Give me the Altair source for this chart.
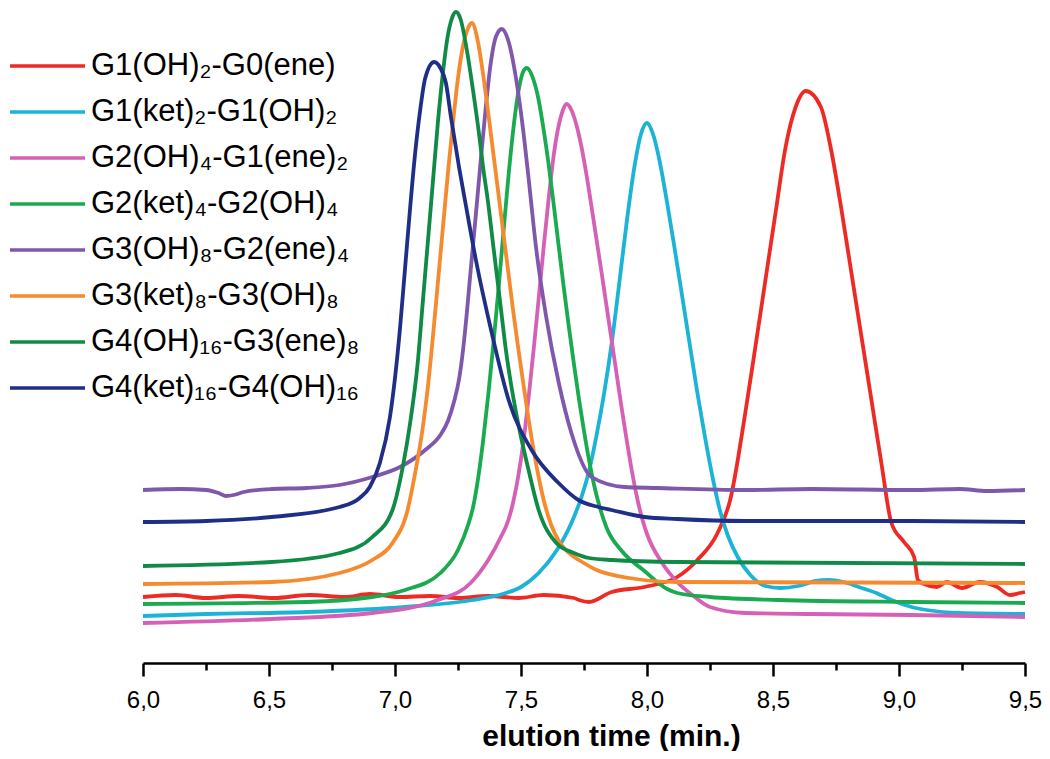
import altair as alt
import pandas as pd

# ---- data (x: elution time in min, y: detector signal, a.u.) ----
names = [
    "G1(OH)₂-G0(ene)",
    "G1(ket)₂-G1(OH)₂",
    "G2(OH)₄-G1(ene)₂",
    "G2(ket)₄-G2(OH)₄",
    "G3(OH)₈-G2(ene)₄",
    "G3(ket)₈-G3(OH)₈",
    "G4(OH)₁₆-G3(ene)₈",
    "G4(ket)₁₆-G4(OH)₁₆",
]
colors = ["#ee2a24", "#1cb4d6", "#d660b6", "#1aaa4f", "#7f57ab", "#f68a2e", "#108b45", "#1f2e87"]

red_x = [6.00, 6.13, 6.25, 6.38, 6.52, 6.66, 6.80, 6.90, 7.02, 7.14, 7.25, 7.37, 7.49, 7.59, 7.71, 7.73,
         7.77, 7.86, 7.99, 8.12, 8.20, 8.28, 8.33, 8.39, 8.43, 8.47, 8.51, 8.55, 8.59, 8.63, 8.69, 8.73,
         8.77, 8.81, 8.85, 8.89, 8.93, 8.97, 9.02, 9.06, 9.075, 9.10, 9.15, 9.19, 9.25, 9.32, 9.39, 9.44,
         9.48, 9.50]
red_y = [6.6, 6.8, 6.5, 6.7, 6.5, 6.8, 6.6, 6.9, 6.6, 6.7, 6.5, 6.7, 6.5, 6.8, 6.5, 6.3,
         6.1, 7.1, 7.6, 8.6, 10.3, 13.0, 16.3, 25.0, 31.6, 38.3, 45.0, 51.6, 55.6, 57.2, 55.6, 51.4,
         45.6, 39.2, 32.8, 26.4, 20.0, 14.0, 12.1, 10.6, 8.3, 7.9, 7.6, 8.1, 7.5, 8.1, 7.6, 6.8,
         7.0, 7.1]

cyan_x = [6.00, 6.25, 6.65, 7.04, 7.31, 7.44, 7.50, 7.57, 7.64, 7.70, 7.74, 7.77, 7.80, 7.83, 7.86, 7.89,
          7.92, 7.95, 7.975, 8.00, 8.025, 8.05, 8.08, 8.11, 8.14, 8.17, 8.20, 8.23, 8.26, 8.29, 8.32, 8.36,
          8.41, 8.47, 8.53, 8.60, 8.67, 8.72, 8.78, 8.84, 8.91, 8.97, 9.05, 9.11, 9.24, 9.50]
cyan_y = [4.7, 4.9, 5.1, 5.6, 6.3, 7.0, 7.6, 9.0, 11.2, 14.0, 16.6, 19.2, 22.8, 27.0, 32.0, 38.0,
          44.2, 49.6, 52.8, 54.0, 52.8, 50.2, 46.0, 41.4, 36.6, 31.8, 27.0, 22.6, 18.6, 15.2, 12.8, 10.6,
          8.8, 7.7, 7.5, 7.7, 8.2, 8.3, 8.1, 7.6, 7.0, 6.3, 5.6, 5.3, 5.0, 4.9]

pink_x = [6.00, 6.51, 6.91, 7.17, 7.30, 7.37, 7.42, 7.45, 7.47, 7.49, 7.51, 7.53, 7.55, 7.57, 7.59, 7.61,
          7.63, 7.65, 7.665, 7.681, 7.70, 7.72, 7.74, 7.76, 7.78, 7.80, 7.82, 7.84, 7.86, 7.88, 7.90, 7.92,
          7.94, 7.96, 7.98, 8.00, 8.06, 8.12, 8.19, 8.25, 8.39, 8.65, 9.05, 9.50]
pink_y = [4.0, 4.4, 5.0, 6.3, 8.0, 10.3, 12.6, 14.3, 16.2, 18.8, 22.2, 26.5, 31.3, 36.4, 41.6, 46.5,
          50.8, 53.8, 55.2, 55.9, 55.3, 53.8, 51.6, 48.8, 45.6, 42.3, 39.0, 35.6, 32.2, 28.8, 25.4, 22.2,
          19.2, 16.6, 14.5, 12.9, 10.0, 8.1, 6.6, 5.6, 5.0, 4.9, 4.8, 4.6]

green_x = [6.00, 6.65, 6.91, 7.04, 7.18, 7.25, 7.29, 7.31, 7.33, 7.35, 7.37, 7.39, 7.41, 7.43, 7.45, 7.47,
           7.49, 7.51, 7.523, 7.55, 7.57, 7.59, 7.61, 7.63, 7.65, 7.67, 7.69, 7.71, 7.73, 7.75, 7.77, 7.79,
           7.81, 7.84, 7.90, 7.99, 8.08, 8.12, 8.25, 8.52, 9.05, 9.50]
green_y = [5.9, 6.1, 6.6, 7.3, 9.0, 11.3, 13.8, 15.6, 18.5, 22.3, 26.8, 31.8, 37.2, 43.0, 48.6, 53.5,
           57.2, 59.2, 59.5, 58.3, 56.3, 53.3, 49.8, 45.8, 41.6, 37.5, 33.6, 29.9, 26.4, 23.2, 20.3, 17.8,
           15.8, 13.5, 11.2, 9.2, 7.4, 7.0, 6.6, 6.3, 6.1, 6.0]

purple_x = [6.00, 6.15, 6.25, 6.30, 6.33, 6.36, 6.40, 6.51, 6.65, 6.78, 6.91, 7.02, 7.12, 7.18, 7.21, 7.235,
            7.255, 7.27, 7.285, 7.30, 7.32, 7.34, 7.36, 7.38, 7.40, 7.424, 7.45, 7.48, 7.51, 7.53, 7.56, 7.60,
            7.65, 7.70, 7.78, 7.91, 8.04, 8.39, 8.65, 9.05, 9.24, 9.35, 9.50]
purple_y = [17.3, 17.4, 17.3, 17.0, 16.7, 16.8, 17.1, 17.4, 17.5, 17.8, 18.6, 19.6, 21.3, 22.8, 24.2, 26.2,
            28.5, 31.3, 35.0, 39.2, 44.6, 50.2, 55.5, 60.0, 62.6, 63.4, 62.2, 58.5, 53.0, 48.5, 41.5, 34.6,
            28.0, 23.0, 18.6, 17.6, 17.5, 17.3, 17.4, 17.3, 17.4, 17.2, 17.3]

orange_x = [6.00, 6.51, 6.78, 6.91, 6.99, 7.05, 7.08, 7.11, 7.13, 7.15, 7.17, 7.19, 7.21, 7.23, 7.25, 7.27,
            7.29, 7.305, 7.33, 7.35, 7.37, 7.39, 7.41, 7.43, 7.45, 7.47, 7.49, 7.51, 7.53, 7.55, 7.57, 7.59,
            7.62, 7.65, 7.70, 7.73, 7.80, 7.93, 8.12, 9.50]
orange_y = [7.9, 8.1, 9.0, 10.3, 12.0, 15.3, 19.0, 23.5, 27.5, 32.5, 38.0, 43.5, 49.0, 54.0, 58.5, 61.7,
            63.5, 64.0, 62.0, 58.8, 55.0, 51.0, 47.0, 43.0, 39.0, 35.0, 31.3, 27.8, 24.4, 21.3, 18.6, 16.3,
            13.8, 12.2, 10.8, 10.3, 9.3, 8.5, 8.1, 8.0]

dkgreen_x = [6.00, 6.51, 6.78, 6.91, 6.99, 7.03, 7.06, 7.09, 7.11, 7.13, 7.15, 7.17, 7.19, 7.21, 7.225, 7.242,
             7.26, 7.285, 7.31, 7.333, 7.35, 7.368, 7.392, 7.42, 7.44, 7.463, 7.50, 7.53, 7.57, 7.64, 7.71, 7.77,
             7.86, 8.12, 9.50]
dkgreen_y = [9.7, 10.1, 11.0, 12.6, 15.3, 19.5, 24.0, 30.0, 36.0, 42.0, 48.0, 54.0, 59.0, 62.8, 64.4, 65.1,
             64.4, 61.3, 57.2, 53.0, 49.5, 46.3, 41.3, 35.5, 31.3, 27.5, 22.6, 19.3, 15.3, 12.0, 11.0, 10.5,
             10.3, 10.1, 9.9]

navy_x = [6.00, 6.25, 6.51, 6.78, 6.86, 6.90, 6.94, 6.98, 7.00, 7.02, 7.04, 7.06, 7.08, 7.10, 7.12, 7.155,
          7.18, 7.202, 7.222, 7.254, 7.281, 7.321, 7.384, 7.451, 7.542, 7.649, 7.728, 7.807, 7.859, 7.99, 8.12,
          8.39, 9.05, 9.50]
navy_y = [14.1, 14.2, 14.6, 15.6, 16.5, 17.6, 20.0, 24.6, 28.5, 33.5, 39.5, 45.5, 51.0, 55.3, 58.5, 60.1,
          59.5, 58.0, 54.6, 49.6, 45.8, 40.3, 33.0, 26.3, 21.3, 18.0, 16.3, 15.6, 15.3, 14.6, 14.4,
          14.2, 14.2, 14.1]

series_x = [red_x, cyan_x, pink_x, green_x, purple_x, orange_x, dkgreen_x, navy_x]
series_y = [red_y, cyan_y, pink_y, green_y, purple_y, orange_y, dkgreen_y, navy_y]

rows = []
for name, xs, ys in zip(names, series_x, series_y):
    for i, (xv, yv) in enumerate(zip(xs, ys)):
        rows.append({"series": name, "t": xv, "s": yv, "i": i})
df = pd.DataFrame(rows)

FONT = "Liberation Sans"

x_axis = alt.Axis(
    values=[6.0 + 0.25 * k for k in range(15)],
    labelExpr="round(datum.value*4) % 2 === 0 ? replace(format(datum.value, '.1f'), '.', ',') : ''",
    tickSize={"condition": {"test": "round(datum.value*4) % 2 === 0", "value": 13}, "value": 7},
    tickWidth=2.5,
    tickColor="black",
    domainColor="black",
    domainWidth=2.5,
    grid=False,
    labelFont=FONT,
    labelFontSize=24,
    labelColor="black",
    labelBaseline="alphabetic",
    labelPadding=31,
    labelFlush=False,
    labelOverlap=False,
    title="elution time (min.)",
    titleFont=FONT,
    titleFontSize=30,
    titleFontWeight="bold",
    titleColor="black",
    titleBaseline="alphabetic",
    titleX=468,
    titleY=82,
    titleAlign="center",
)

chart = (
    alt.Chart(df)
    .mark_line(interpolate="monotone", strokeWidth=3.8)
    .encode(
        x=alt.X("t:Q", scale=alt.Scale(domain=[6.0, 9.5], nice=False, zero=False), axis=x_axis),
        y=alt.Y("s:Q", scale=alt.Scale(domain=[0, 65.5], nice=False), axis=None),
        color=alt.Color(
            "series:N",
            scale=alt.Scale(domain=names, range=colors),
            legend=alt.Legend(
                title=None,
                orient="none",
                legendX=-135,
                legendY=43,
                symbolType="stroke",
                symbolSize=5625,
                symbolStrokeWidth=3.5,
                labelFont=FONT,
                labelFontSize=31,
                labelColor="black",
                labelOffset=4,
                clipHeight=30,
                rowPadding=15,
                padding=0,
                labelLimit=400,
            ),
        ),
        order="i:Q",
    )
    .properties(
        width=882,
        height=655,
        autosize=alt.AutoSizeParams(type="none"),
        padding={"left": 135, "top": 0, "right": 17, "bottom": 88},
    )
    .configure_view(stroke=None)
)

chart.save("out.html", embed_options={"renderer": "svg", "actions": False})
